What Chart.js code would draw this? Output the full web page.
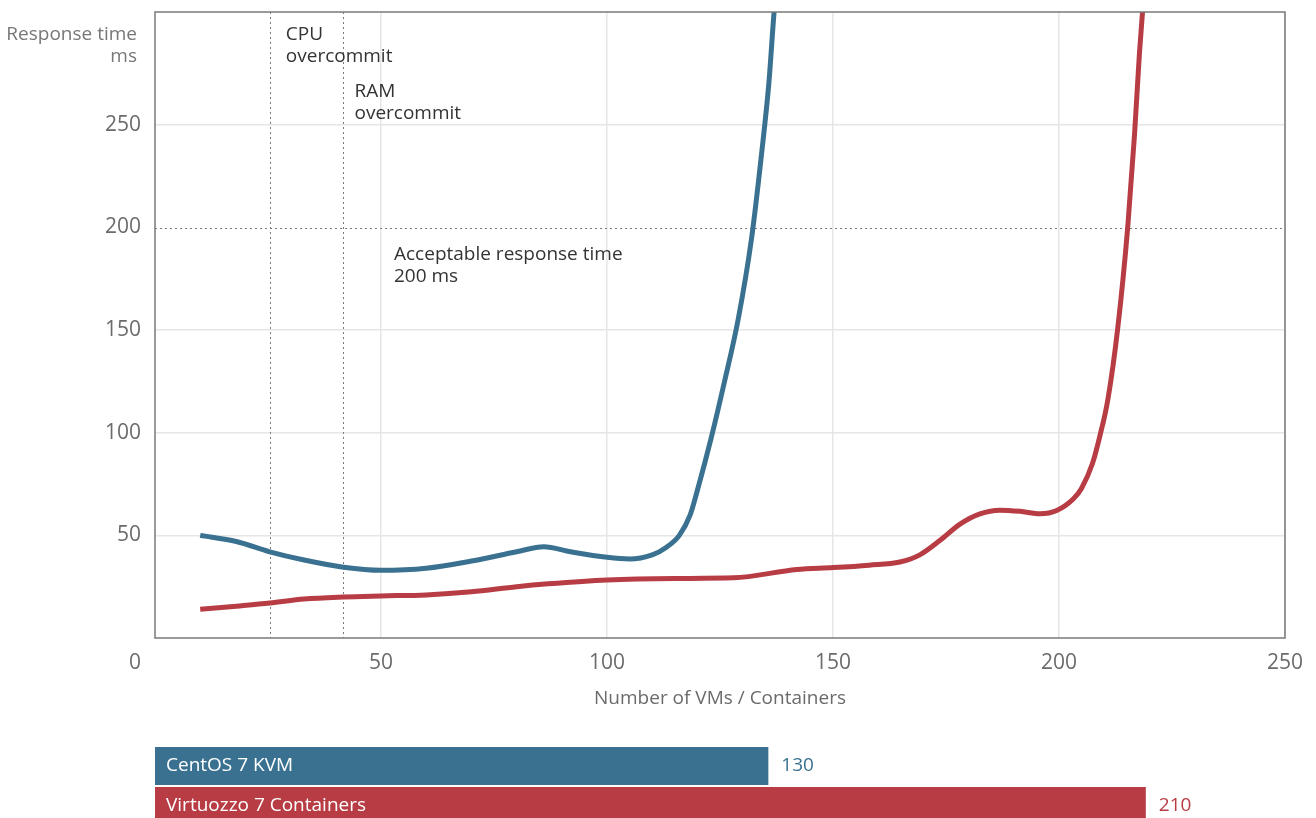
<!DOCTYPE html>
<html>
<head>
<meta charset="utf-8">
<title>Response time vs number of VMs / Containers</title>
<script src="https://cdn.jsdelivr.net/npm/chart.js@4.4.1/dist/chart.umd.min.js"></script>
<style>
  html, body { margin: 0; padding: 0; background: #fff; overflow: hidden; }
  #lineBox { position: absolute; left: 0; top: 0; width: 1316px; height: 720px; }
  #barBox { position: absolute; left: 0; top: 746px; width: 1316px; height: 80px; }
</style>
</head>
<body>
<div id="lineBox"><canvas id="tiempoChart"></canvas></div>
<div id="barBox"><canvas id="maxChart"></canvas></div>
<script>
// CentOS 7 KVM - response time (ms) per number of VMs
const kvmVMs = [10, 18, 25.4, 33, 41.7, 50, 60, 70, 80, 86, 92, 100, 105, 110, 113, 116, 118.4, 120, 123, 126, 129, 132, 134.2, 135.8, 137, 137.6];
const kvmMs  = [50, 47, 42, 38, 34.5, 33, 34, 37.5, 42, 44.5, 42, 39.3, 38.5, 40.5, 44, 50, 60, 72, 97, 125, 155, 195, 236, 270, 306, 320];

// Virtuozzo 7 Containers - response time (ms) per number of containers
const vzCTs = [10, 18, 25.4, 33, 41.7, 50, 60, 70, 80, 87, 100, 115, 128, 142, 150, 158, 164.8, 169.2, 173.7, 178.1, 182.5, 186.9, 191.4, 195.8, 199.5, 203.2, 205, 207.4, 209, 210.8, 213, 215.2, 216.7, 217.8, 219];
const vzMs  = [14, 15.5, 17, 19, 20, 20.5, 21, 22.5, 25, 26.4, 28.3, 29, 29.3, 33.4, 34.3, 35.5, 37, 40.5, 47.6, 55.5, 60.5, 62.3, 61.7, 60.5, 62.1, 67.8, 73, 85, 98, 116, 151, 200, 245, 285, 320];

const ticksX = [50, 100, 150, 200, 250];
const ticksY = [50, 100, 150, 200, 250];

const marcasOvercommit = [25.4, 41.7];
const textosOvercommit = [['CPU', 'overcommit'], ['RAM', 'overcommit']];
const limiteAceptable = 200;
const textoLimite = ['Acceptable response time', '200 ms'];

const sistemas = ['CentOS 7 KVM', 'Virtuozzo 7 Containers'];
const maxMaquinas = [130, 210];

const azul = '#3a7190';
const rojo = '#b83c44';

Chart.defaults.font.family = "'Open Sans', 'Noto Sans', sans-serif";
Chart.defaults.animation = false;

function aPuntos(xs, ys) {
    return xs.map((v, i) => ({ x: v, y: ys[i] }));
}

const anotaciones = {
    id: 'anotaciones',
    beforeDatasetsDraw(chart) {
        const { ctx, chartArea: a, scales: { x, y } } = chart;
        ctx.save();
        ctx.strokeStyle = '#7a7a7a';
        ctx.lineWidth = 1;
        ctx.setLineDash([2, 3]);
        marcasOvercommit.forEach(v => {
            const px = Math.round(x.getPixelForValue(v)) + 0.5;
            ctx.beginPath();
            ctx.moveTo(px, a.top);
            ctx.lineTo(px, a.bottom);
            ctx.stroke();
        });
        const py = Math.round(y.getPixelForValue(limiteAceptable)) + 0.5;
        ctx.beginPath();
        ctx.moveTo(a.left, py);
        ctx.lineTo(a.right, py);
        ctx.stroke();
        ctx.restore();
    },
    afterDraw(chart) {
        const { ctx, chartArea: a, scales: { x, y } } = chart;
        ctx.save();
        // marco del area
        ctx.strokeStyle = '#7a7a7a';
        ctx.lineWidth = 1.5;
        ctx.strokeRect(a.left, a.top, a.right - a.left, a.bottom - a.top);

        ctx.font = "19px 'Open Sans', sans-serif";
        ctx.textBaseline = 'middle';

        // titulo eje Y
        ctx.fillStyle = '#777';
        ctx.textAlign = 'right';
        ctx.fillText('Response time', a.left - 18, a.top + 23);
        ctx.fillText('ms', a.left - 18, a.top + 45);

        // "0" de la esquina
        ctx.font = "21px 'Open Sans', sans-serif";
        ctx.fillStyle = '#6b6b6b';
        ctx.textAlign = 'center';
        ctx.fillText('0', x.getPixelForValue(0) - 20, a.bottom + 25);

        // textos de overcommit y limite
        ctx.font = "19px 'Open Sans', sans-serif";
        ctx.fillStyle = '#333';
        ctx.textAlign = 'left';
        const desp = [[16, 23], [11, 80]];
        marcasOvercommit.forEach((v, i) => {
            const px = x.getPixelForValue(v) + desp[i][0];
            textosOvercommit[i].forEach((t, j) => ctx.fillText(t, px, a.top + desp[i][1] + j * 22));
        });
        const py = y.getPixelForValue(limiteAceptable);
        textoLimite.forEach((t, j) => ctx.fillText(t, x.getPixelForValue(50) + 13, py + 27 + j * 22));
        ctx.restore();
    }
};

new Chart(document.getElementById('tiempoChart'), {
    type: 'line',
    data: {
        datasets: [
            {
                label: 'CentOS 7 KVM',
                data: aPuntos(kvmVMs, kvmMs),
                borderColor: azul,
                borderWidth: 5,
                pointRadius: 0,
                cubicInterpolationMode: 'monotone',
                borderCapStyle: 'butt'
            },
            {
                label: 'Virtuozzo 7 Containers',
                data: aPuntos(vzCTs, vzMs),
                borderColor: rojo,
                borderWidth: 5,
                pointRadius: 0,
                cubicInterpolationMode: 'monotone',
                borderCapStyle: 'butt'
            }
        ]
    },
    options: {
        responsive: true,
        maintainAspectRatio: false,
        layout: { padding: { top: 12, right: 31, left: 0, bottom: 0 } },
        plugins: {
            legend: { display: false },
            tooltip: { enabled: false }
        },
        scales: {
            x: {
                type: 'linear',
                min: 0,
                max: 250,
                afterBuildTicks: s => { s.ticks = ticksX.map(v => ({ value: v })); },
                afterFit: s => { s.height = 82; },
                ticks: {
                    padding: 12,
                    color: '#6b6b6b',
                    font: { size: 21 }
                },
                grid: {
                    color: '#e6e6e6',
                    lineWidth: 1.5,
                    drawTicks: false
                },
                border: { display: false },
                title: {
                    display: true,
                    text: 'Number of VMs / Containers',
                    color: '#6b6b6b',
                    font: { size: 19 },
                    padding: { top: 0, bottom: 10 }
                }
            },
            y: {
                min: 0,
                max: 305,
                afterBuildTicks: s => { s.ticks = ticksY.map(v => ({ value: v })); },
                afterFit: s => {
                    s.width = 155;
                    s.paddingTop = 0;
                    s.paddingBottom = 0;
                },
                ticks: {
                    padding: 14,
                    color: '#6b6b6b',
                    font: { size: 21 }
                },
                grid: {
                    color: ctx => ctx.tick && ctx.tick.value === limiteAceptable ? 'rgba(0,0,0,0)' : '#e6e6e6',
                    lineWidth: 1.5,
                    drawTicks: false
                },
                border: { display: false }
            }
        }
    },
    plugins: [anotaciones]
});

const etiquetasBarras = {
    id: 'etiquetasBarras',
    afterDatasetsDraw(chart) {
        const { ctx } = chart;
        const meta = chart.getDatasetMeta(0);
        const colores = chart.data.datasets[0].backgroundColor;
        ctx.save();
        ctx.font = "19px 'Open Sans', sans-serif";
        ctx.textBaseline = 'middle';
        ctx.textAlign = 'left';
        meta.data.forEach((bar, i) => {
            ctx.fillStyle = '#fff';
            ctx.fillText(sistemas[i], bar.base + 11, bar.y);
            ctx.fillStyle = colores[i];
            ctx.fillText(String(maxMaquinas[i]), bar.x + 13, bar.y);
        });
        ctx.restore();
    }
};

new Chart(document.getElementById('maxChart'), {
    type: 'bar',
    data: {
        labels: sistemas,
        datasets: [{
            data: maxMaquinas,
            backgroundColor: [azul, rojo],
            barPercentage: 0.95,
            categoryPercentage: 1
        }]
    },
    options: {
        indexAxis: 'y',
        responsive: true,
        maintainAspectRatio: false,
        layout: { padding: { left: 155, right: 31, top: 0, bottom: 0 } },
        plugins: {
            legend: { display: false },
            tooltip: { enabled: false }
        },
        scales: {
            x: { min: 0, max: 239.5, display: false },
            y: { display: false }
        }
    },
    plugins: [etiquetasBarras]
});
</script>
</body>
</html>
